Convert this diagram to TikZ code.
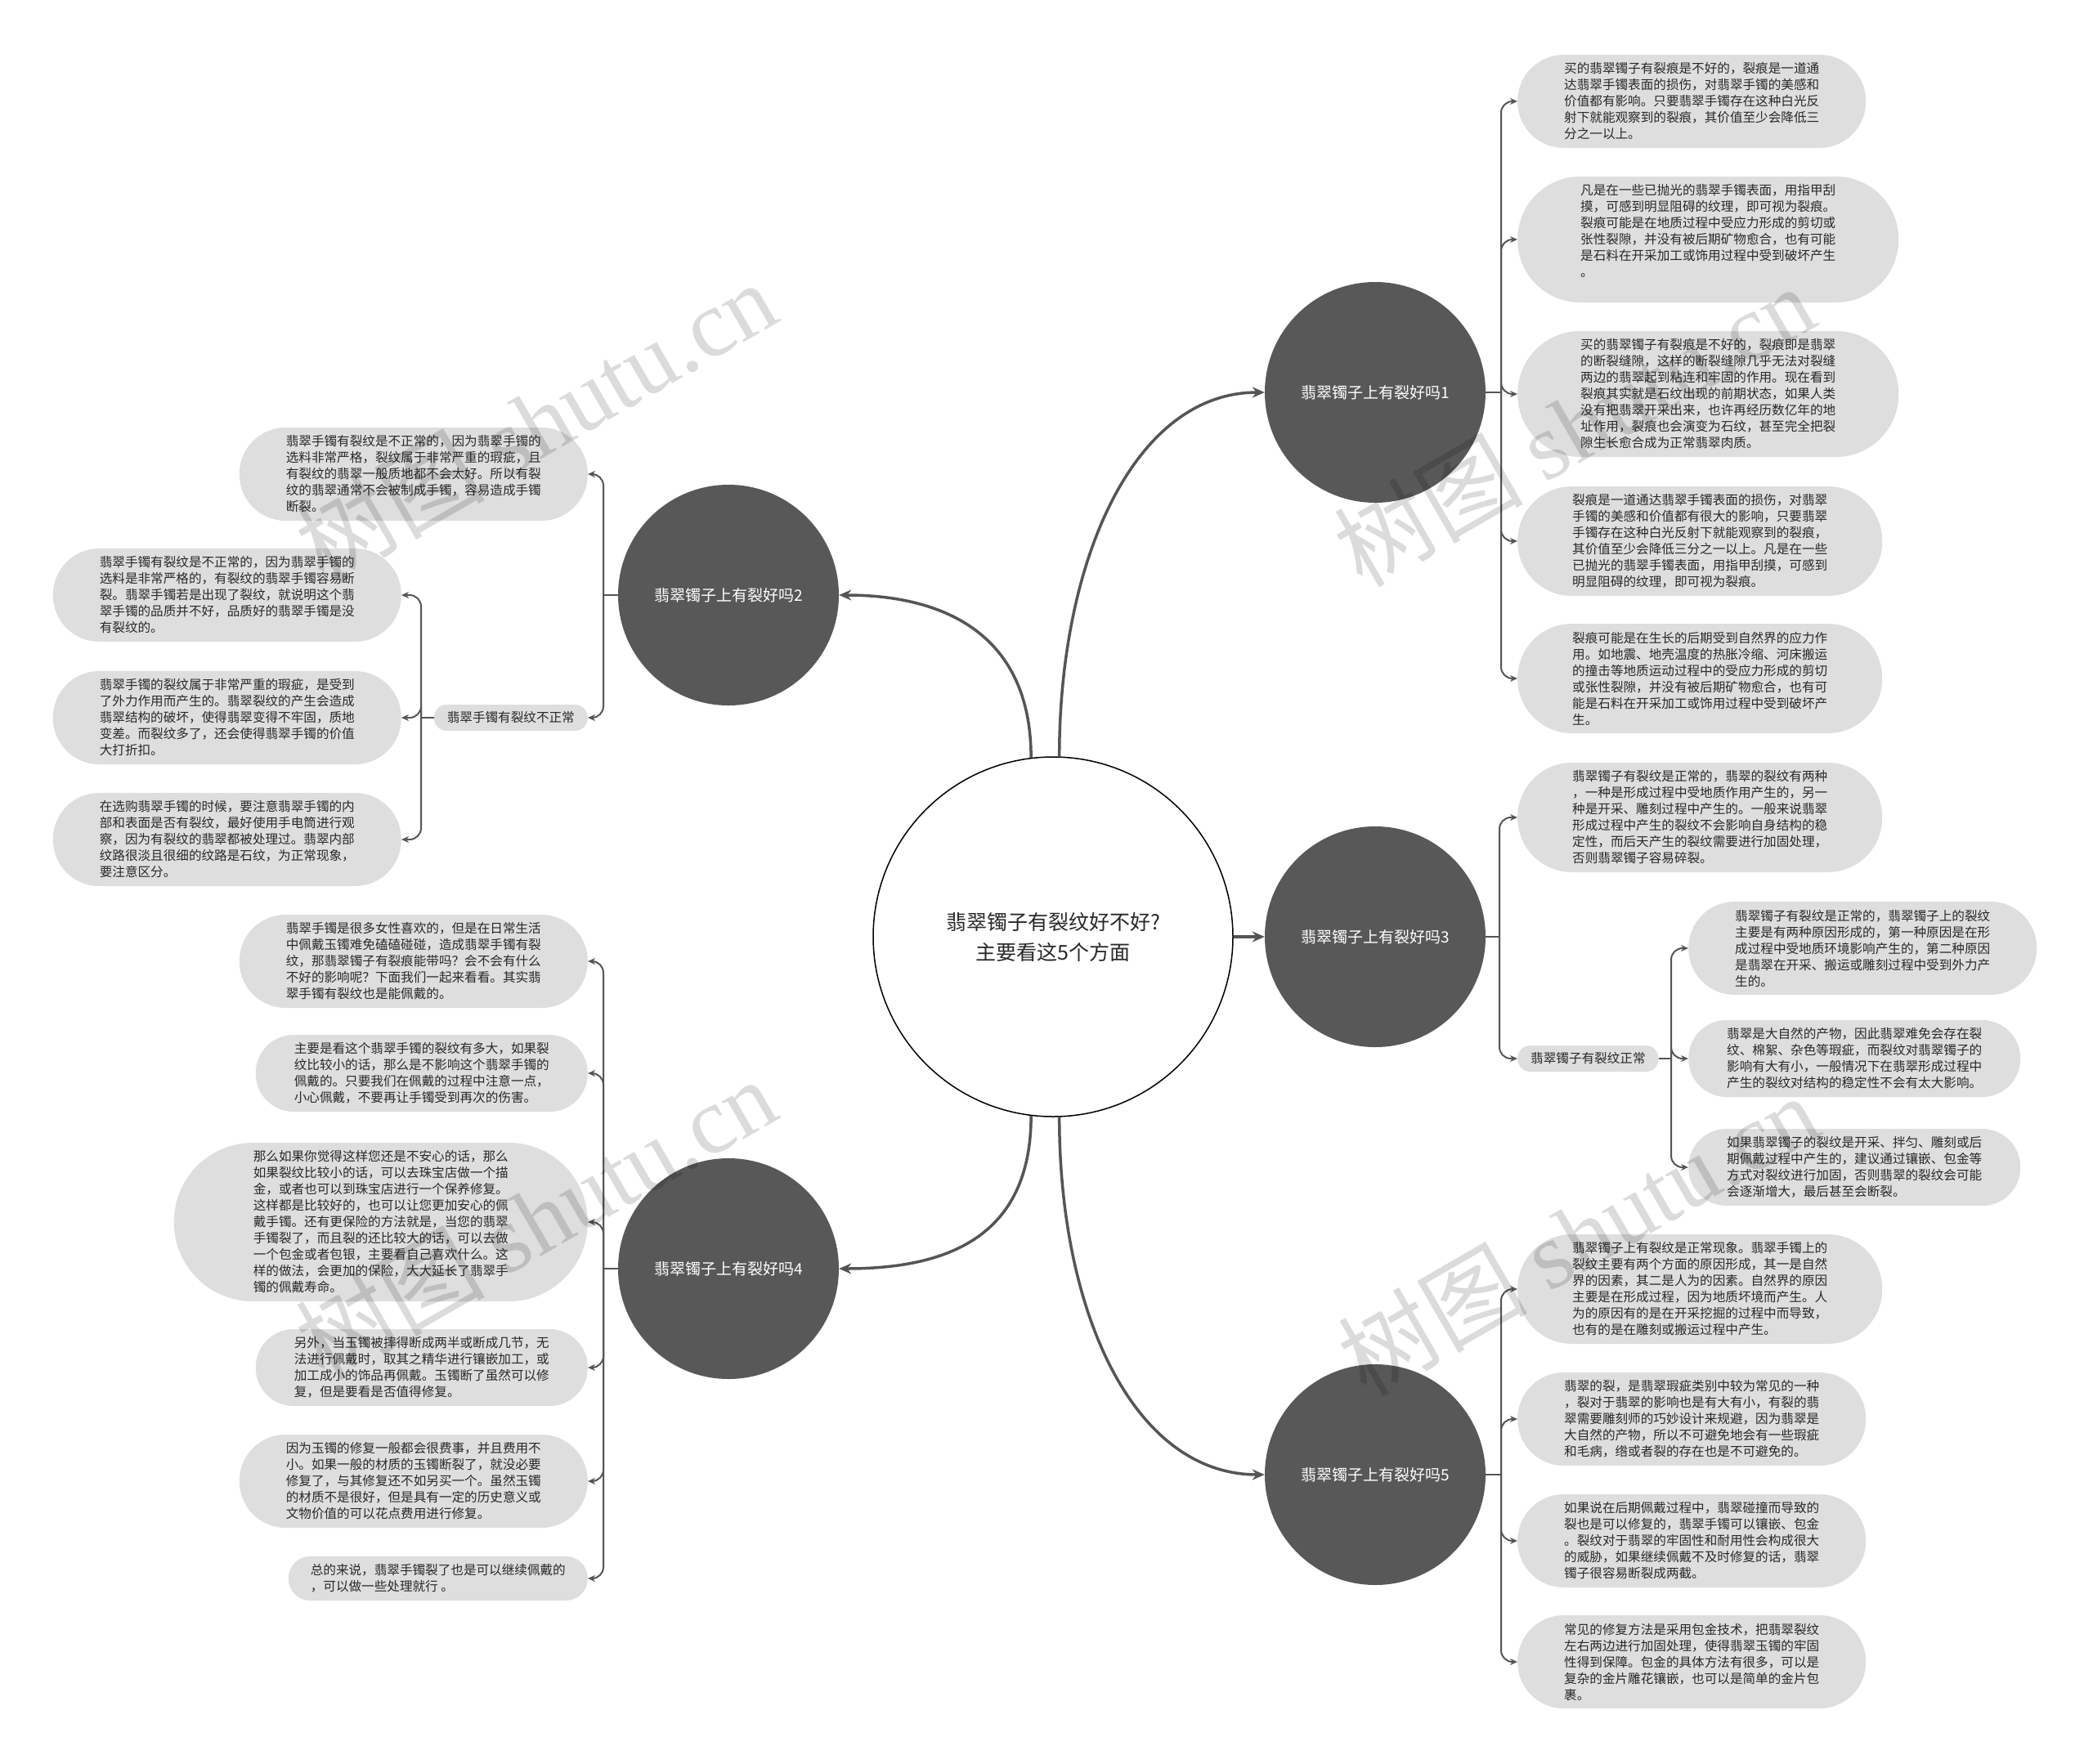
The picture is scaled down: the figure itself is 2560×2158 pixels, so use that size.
\documentclass[tikz,border=0pt]{standalone}
\usepackage{fontspec}
\setmainfont{Noto Sans CJK SC}
\newfontfamily\cjk{Noto Sans CJK SC}
\newfontfamily\wmlat{Liberation Serif}
\usetikzlibrary{arrows.meta}
\definecolor{nodefill}{RGB}{88,88,88}
\definecolor{boxfill}{RGB}{222,222,222}
\definecolor{txt}{RGB}{40,40,40}
\definecolor{lc}{RGB}{85,85,85}
\tikzset{
  box/.style={rectangle, fill=boxfill, rounded corners={#1*10+6.5}, inner xsep={#1*10+7}, inner ysep=0pt, minimum height={#1*20+14}, align=left, text=txt, font=\cjk\fontsize{15.6}{20}\selectfont},
  tag/.style={rectangle, fill=boxfill, rounded corners=15.5, inner xsep=16, inner ysep=0pt, minimum height=32, text=txt, font=\cjk\fontsize{15.6}{20}\selectfont},
  mainnode/.style={circle, fill=nodefill, minimum size=270pt, inner sep=0pt, text=white, font=\cjk\fontsize{19}{24}\selectfont},
  rootnode/.style={circle, draw=black, line width=1.5pt, fill=white, minimum size=440pt, inner sep=0pt, align=center, text=txt, font=\cjk\fontsize{25}{37}\selectfont},
  conn/.style={draw=lc, line width=2pt, rounded corners=14pt, -{Stealth[length=9pt,width=8pt]}},
  trunk/.style={draw=lc, line width=2pt},
  bigconn/.style={draw=lc, line width=3.5pt, -{Stealth[length=15pt,width=13pt]}},
  wm/.style={text=black, opacity=0.14, rotate=30, inner sep=0pt, font=\fontsize{116}{116}\selectfont}
}
\begin{document}
\begin{tikzpicture}[x=1pt,y=-1pt]
\useasboundingbox (0,0) rectangle (2560,2158);
\fill[white] (0,0) rectangle (2560,2158);

% root and main nodes
\node[rootnode] (C) at (1288,1146) {翡翠镯子有裂纹好不好?\\主要看这5个方面};
\node[mainnode] (N1) at (1682,480) {翡翠镯子上有裂好吗1};
\node[mainnode] (N2) at (891,728) {翡翠镯子上有裂好吗2};
\node[mainnode] (N3) at (1682,1146) {翡翠镯子上有裂好吗3};
\node[mainnode] (N4) at (891,1552) {翡翠镯子上有裂好吗4};
\node[mainnode] (N5) at (1682,1804) {翡翠镯子上有裂好吗5};

% branch 1
\node[box=5, anchor=west] (B11) at (1856,124) {买的翡翠镯子有裂痕是不好的，裂痕是一道通\\达翡翠手镯表面的损伤，对翡翠手镯的美感和\\价值都有影响。只要翡翠手镯存在这种白光反\\射下就能观察到的裂痕，其价值至少会降低三\\分之一以上。};
\node[box=7, anchor=west] (B12) at (1856,293) {凡是在一些已抛光的翡翠手镯表面，用指甲刮\\摸，可感到明显阻碍的纹理，即可视为裂痕。\\裂痕可能是在地质过程中受应力形成的剪切或\\张性裂隙，并没有被后期矿物愈合，也有可能\\是石料在开采加工或饰用过程中受到破坏产生\\。\\\phantom{翡}};
\node[box=7, anchor=west] (B13) at (1856,482) {买的翡翠镯子有裂痕是不好的，裂痕即是翡翠\\的断裂缝隙，这样的断裂缝隙几乎无法对裂缝\\两边的翡翠起到粘连和牢固的作用。现在看到\\裂痕其实就是石纹出现的前期状态，如果人类\\没有把翡翠开采出来，也许再经历数亿年的地\\址作用，裂痕也会演变为石纹，甚至完全把裂\\隙生长愈合成为正常翡翠肉质。};
\node[box=6, anchor=west] (B14) at (1856,662) {裂痕是一道通达翡翠手镯表面的损伤，对翡翠\\手镯的美感和价值都有很大的影响，只要翡翠\\手镯存在这种白光反射下就能观察到的裂痕，\\其价值至少会降低三分之一以上。凡是在一些\\已抛光的翡翠手镯表面，用指甲刮摸，可感到\\明显阻碍的纹理，即可视为裂痕。};
\node[box=6, anchor=west] (B15) at (1856,830) {裂痕可能是在生长的后期受到自然界的应力作\\用。如地震、地壳温度的热胀冷缩、河床搬运\\的撞击等地质运动过程中的受应力形成的剪切\\或张性裂隙，并没有被后期矿物愈合，也有可\\能是石料在开采加工或饰用过程中受到破坏产\\生。};

% branch 3
\node[box=6, anchor=west] (B31) at (1856,1000) {翡翠镯子有裂纹是正常的，翡翠的裂纹有两种\\，一种是形成过程中受地质作用产生的，另一\\种是开采、雕刻过程中产生的。一般来说翡翠\\形成过程中产生的裂纹不会影响自身结构的稳\\定性，而后天产生的裂纹需要进行加固处理，\\否则翡翠镯子容易碎裂。};
\node[tag, anchor=west] (L3) at (1856,1295) {翡翠镯子有裂纹正常};
\node[box=5, anchor=west] (B32) at (2065,1160) {翡翠镯子有裂纹是正常的，翡翠镯子上的裂纹\\主要是有两种原因形成的，第一种原因是在形\\成过程中受地质环境影响产生的，第二种原因\\是翡翠在开采、搬运或雕刻过程中受到外力产\\生的。};
\node[box=4, anchor=west] (B33) at (2065,1295) {翡翠是大自然的产物，因此翡翠难免会存在裂\\纹、棉絮、杂色等瑕疵，而裂纹对翡翠镯子的\\影响有大有小，一般情况下在翡翠形成过程中\\产生的裂纹对结构的稳定性不会有太大影响。};
\node[box=4, anchor=west] (B34) at (2065,1428) {如果翡翠镯子的裂纹是开采、拌匀、雕刻或后\\期佩戴过程中产生的，建议通过镶嵌、包金等\\方式对裂纹进行加固，否则翡翠的裂纹会可能\\会逐渐增大，最后甚至会断裂。};

% branch 5
\node[box=6, anchor=west] (B51) at (1856,1577) {翡翠镯子上有裂纹是正常现象。翡翠手镯上的\\裂纹主要有两个方面的原因形成，其一是自然\\界的因素，其二是人为的因素。自然界的原因\\主要是在形成过程，因为地质坏境而产生。人\\为的原因有的是在开采挖掘的过程中而导致，\\也有的是在雕刻或搬运过程中产生。};
\node[box=5, anchor=west] (B52) at (1856,1736) {翡翠的裂，是翡翠瑕疵类别中较为常见的一种\\，裂对于翡翠的影响也是有大有小，有裂的翡\\翠需要雕刻师的巧妙设计来规避，因为翡翠是\\大自然的产物，所以不可避免地会有一些瑕疵\\和毛病，绺或者裂的存在也是不可避免的。};
\node[box=5, anchor=west] (B53) at (1856,1885) {如果说在后期佩戴过程中，翡翠碰撞而导致的\\裂也是可以修复的，翡翠手镯可以镶嵌、包金\\。裂纹对于翡翠的牢固性和耐用性会构成很大\\的威胁，如果继续佩戴不及时修复的话，翡翠\\镯子很容易断裂成两截。};
\node[box=5, anchor=west] (B54) at (1856,2033) {常见的修复方法是采用包金技术，把翡翠裂纹\\左右两边进行加固处理，使得翡翠玉镯的牢固\\性得到保障。包金的具体方法有很多，可以是\\复杂的金片雕花镶嵌，也可以是简单的金片包\\裹。};

% branch 2
\node[box=5, anchor=east] (L21) at (719,580) {翡翠手镯有裂纹是不正常的，因为翡翠手镯的\\选料非常严格，裂纹属于非常严重的瑕疵，且\\有裂纹的翡翠一般质地都不会太好。所以有裂\\纹的翡翠通常不会被制成手镯，容易造成手镯\\断裂。};
\node[tag, anchor=east] (L2) at (719,878) {翡翠手镯有裂纹不正常};
\node[box=5, anchor=east] (L22) at (491,728) {翡翠手镯有裂纹是不正常的，因为翡翠手镯的\\选料是非常严格的，有裂纹的翡翠手镯容易断\\裂。翡翠手镯若是出现了裂纹，就说明这个翡\\翠手镯的品质并不好，品质好的翡翠手镯是没\\有裂纹的。};
\node[box=5, anchor=east] (L23) at (491,878) {翡翠手镯的裂纹属于非常严重的瑕疵，是受到\\了外力作用而产生的。翡翠裂纹的产生会造成\\翡翠结构的破坏，使得翡翠变得不牢固，质地\\变差。而裂纹多了，还会使得翡翠手镯的价值\\大打折扣。};
\node[box=5, anchor=east] (L24) at (491,1027) {在选购翡翠手镯的时候，要注意翡翠手镯的内\\部和表面是否有裂纹，最好使用手电筒进行观\\察，因为有裂纹的翡翠都被处理过。翡翠内部\\纹路很淡且很细的纹路是石纹，为正常现象，\\要注意区分。};

% branch 4
\node[box=5, anchor=east] (L41) at (719,1176) {翡翠手镯是很多女性喜欢的，但是在日常生活\\中佩戴玉镯难免磕磕碰碰，造成翡翠手镯有裂\\纹，那翡翠镯子有裂痕能带吗？会不会有什么\\不好的影响呢？下面我们一起来看看。其实翡\\翠手镯有裂纹也是能佩戴的。};
\node[box=4, anchor=east] (L42) at (719,1313) {主要是看这个翡翠手镯的裂纹有多大，如果裂\\纹比较小的话，那么是不影响这个翡翠手镯的\\佩戴的。只要我们在佩戴的过程中注意一点，\\小心佩戴，不要再让手镯受到再次的伤害。};
\node[box=9, anchor=east] (L43) at (719,1495) {那么如果你觉得这样您还是不安心的话，那么\\如果裂纹比较小的话，可以去珠宝店做一个描\\金，或者也可以到珠宝店进行一个保养修复。\\这样都是比较好的，也可以让您更加安心的佩\\戴手镯。还有更保险的方法就是，当您的翡翠\\手镯裂了，而且裂的还比较大的话，可以去做\\一个包金或者包银，主要看自己喜欢什么。这\\样的做法，会更加的保险，大大延长了翡翠手\\镯的佩戴寿命。};
\node[box=4, anchor=east] (L44) at (719,1673) {另外，当玉镯被摔得断成两半或断成几节，无\\法进行佩戴时，取其之精华进行镶嵌加工，或\\加工成小的饰品再佩戴。玉镯断了虽然可以修\\复，但是要看是否值得修复。};
\node[box=5, anchor=east] (L45) at (719,1812) {因为玉镯的修复一般都会很费事，并且费用不\\小。如果一般的材质的玉镯断裂了，就没必要\\修复了，与其修复还不如另买一个。虽然玉镯\\的材质不是很好，但是具有一定的历史意义或\\文物价值的可以花点费用进行修复。};
\node[box=2, anchor=east] (L46) at (719,1931) {总的来说，翡翠手镯裂了也是可以继续佩戴的\\，可以做一些处理就行 。};

% root connectors
\draw[bigconn] (C.88) .. controls +(0,-240) and +(-160,0) .. (N1.west);
\draw[bigconn] (C.97) .. controls +(0,-150) and +(130,0) .. (N2.east);
\draw[bigconn] (C.east) -- (N3.west);
\draw[bigconn] (C.263) .. controls +(0,150) and +(130,0) .. (N4.east);
\draw[bigconn] (C.272) .. controls +(0,240) and +(-160,0) .. (N5.west);

% brackets
\draw[trunk] (N1.east) -- (1836,480) coordinate (b1);
\foreach \t in {B11,B12,B13,B14,B15} \draw[conn] (b1) |- (\t.west);
\draw[trunk] (N3.east) -- (1834,1146) coordinate (b3);
\foreach \t in {B31,L3} \draw[conn] (b3) |- (\t.west);
\draw[trunk] (L3.east) -- (2044,1295) coordinate (bl3);
\foreach \t in {B32,B33,B34} \draw[conn] (bl3) |- (\t.west);
\draw[trunk] (N5.east) -- (1836,1804) coordinate (b5);
\foreach \t in {B51,B52,B53,B54} \draw[conn] (b5) |- (\t.west);
\draw[trunk] (N2.west) -- (738,728) coordinate (b2);
\foreach \t in {L21,L2} \draw[conn] (b2) |- (\t.east);
\draw[trunk] (L2.west) -- (515,878) coordinate (bl2);
\foreach \t in {L22,L23,L24} \draw[conn] (bl2) |- (\t.east);
\draw[trunk] (N4.west) -- (738,1552) coordinate (b4);
\foreach \t in {L41,L42,L43,L44,L45,L46} \draw[conn] (b4) |- (\t.east);

% watermarks
\node[wm] (W1) at (655,515) {{\cjk 树图} {\wmlat shutu.cn}};
\node[wm] (W2) at (1925,520) {{\cjk 树图} {\wmlat shutu.cn}};
\node[wm] (W3) at (655,1490) {{\cjk 树图} {\wmlat shutu.cn}};
\node[wm] (W4) at (1930,1510) {{\cjk 树图} {\wmlat shutu.cn}};
\end{tikzpicture}
\end{document}
